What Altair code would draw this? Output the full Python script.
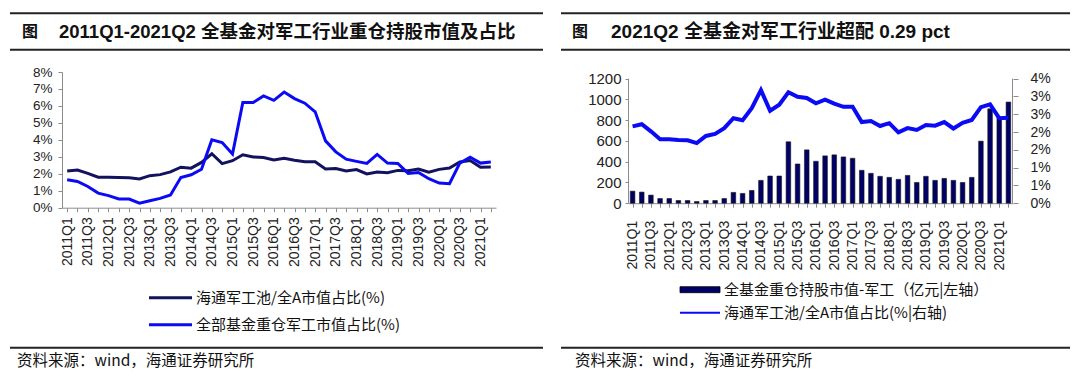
import altair as alt
import pandas as pd

quarters = [
    "2011Q1", "2011Q2", "2011Q3", "2011Q4", "2012Q1", "2012Q2", "2012Q3", "2012Q4",
    "2013Q1", "2013Q2", "2013Q3", "2013Q4", "2014Q1", "2014Q2", "2014Q3", "2014Q4",
    "2015Q1", "2015Q2", "2015Q3", "2015Q4", "2016Q1", "2016Q2", "2016Q3", "2016Q4",
    "2017Q1", "2017Q2", "2017Q3", "2017Q4", "2018Q1", "2018Q2", "2018Q3", "2018Q4",
    "2019Q1", "2019Q2", "2019Q3", "2019Q4", "2020Q1", "2020Q2", "2020Q3", "2020Q4",
    "2021Q1", "2021Q2",
]
# 海通军工池/全A市值占比 (%)
pool_share = [2.16, 2.22, 2.02, 1.80, 1.80, 1.78, 1.77, 1.69, 1.89, 1.95, 2.11, 2.39,
              2.33, 2.67, 3.18, 2.60, 2.77, 3.12, 2.99, 2.96, 2.81, 2.91, 2.80, 2.71,
              2.71, 2.28, 2.31, 2.17, 2.25, 1.99, 2.11, 2.06, 2.20, 2.18, 2.28, 2.10,
              2.26, 2.34, 2.70, 2.78, 2.39, 2.40]
# 全部基金重仓军工市值占比 (%)
fund_share = [1.65, 1.55, 1.25, 0.86, 0.71, 0.51, 0.51, 0.27, 0.41, 0.55, 0.75, 1.78,
              1.94, 2.27, 4.00, 3.84, 3.16, 6.20, 6.20, 6.59, 6.33, 6.82, 6.43, 6.16,
              5.65, 3.94, 3.29, 2.86, 2.73, 2.61, 3.14, 2.63, 2.61, 2.02, 2.08, 1.71,
              1.45, 1.41, 2.63, 2.98, 2.63, 2.69]
# 全基金重仓持股市值-军工 (亿元)
fund_value = [116, 107, 78, 45, 45, 26, 26, 16, 26, 26, 45, 104,
              94, 123, 220, 262, 262, 592, 378, 514, 404, 456, 466, 446,
              433, 317, 288, 259, 249, 230, 268, 200, 259, 220, 239, 220,
              200, 249, 598, 910, 830, 975]

left_ticks = [0, 0.01, 0.02, 0.03, 0.04, 0.05, 0.06, 0.07, 0.08]
right_left_ticks = [0, 200, 400, 600, 800, 1000, 1200]
right_right_ticks = [0, 0.005, 0.01, 0.015, 0.02, 0.025, 0.03, 0.035]

title_left = "2011Q1-2021Q2 全基金对军工行业重仓持股市值及占比"
title_right = "2021Q2 全基金对军工行业超配 0.29 pct"
legend_left = ["海通军工池/全A市值占比(%)", "全部基金重仓军工市值占比(%)"]
legend_right = ["全基金重仓持股市值-军工（亿元|左轴）", "海通军工池/全A市值占比(%|右轴)"]
source = "资料来源：wind，海通证券研究所"

LAT = "Liberation Sans"
CJK = "Noto Sans CJK SC"
MIX = "Liberation Sans, Noto Sans CJK SC"
DARK = "#12125e"
BLUE = "#0a0af5"
NAVY = "#000066"
AX = "#8c8c8c"

df = pd.DataFrame({
    "q": quarters,
    "pool": [v / 100 for v in pool_share],
    "fund": [v / 100 for v in fund_share],
    "amount": fund_value,
})
one = pd.DataFrame({"k": [0]})


def txt(s, x, y, size, weight="normal", font=CJK, color="#111"):
    return alt.Chart(one).mark_text(
        text=s, align="left", baseline="middle", fontSize=size, fontWeight=weight,
        font=font, color=color
    ).encode(x=alt.value(x), y=alt.value(y))


def hline(x1, x2, y, w, color):
    return alt.Chart(one).mark_rule(strokeWidth=w, color=color).encode(
        x=alt.value(x1), x2=alt.value(x2), y=alt.value(y))


def vline(x, y1, y2, color):
    return alt.Chart(one).mark_rule(strokeWidth=1, color=color).encode(
        x=alt.value(x), y=alt.value(y1), y2=alt.value(y2))


def box(x1, x2, y1, y2):
    return alt.Chart(one).mark_rect(opacity=0).encode(
        x=alt.value(x1), x2=alt.value(x2), y=alt.value(y1), y2=alt.value(y2))


label_expr_x = ("indexof(datum.value, 'Q2') >= 0 || indexof(datum.value, 'Q4') >= 0"
                " ? '' : datum.value")


def xaxis(pad):
    return alt.Axis(labelAngle=270, labelExpr=label_expr_x, labelOverlap=False,
                    tickSize=4, tickColor=AX, domainColor=AX,
                    labelFont=LAT, labelFontSize=14, labelColor="#222",
                    labelPadding=pad, title="", grid=False)


def yaxis(orient, values, fmt, tick, pad, size=14, domain=True):
    return alt.Axis(orient=orient, values=values, format=fmt, labelOverlap=False,
                    tickSize=tick, tickColor=AX, domainColor=AX, domain=domain,
                    labelFont=LAT, labelFontSize=size, labelColor="#222",
                    labelPadding=pad, title="", grid=False)


# ---------------- left panel (plot 434 x 135.7, origin at page 62,71.3) ----------------
WL, HL = 434, 135.7
xL_scale = alt.Scale(type="point", domain=quarters, padding=0.5)
yL_scale = alt.Scale(domain=[0, 0.08], nice=False)
xL_axis = xaxis(5)
yL_axis = yaxis("left", left_ticks, ".0%", 4, 6, 13.5)

left_dark = alt.Chart(df).mark_line(color=DARK, strokeWidth=3).encode(
    x=alt.X("q:N", scale=xL_scale, axis=xL_axis),
    y=alt.Y("pool:Q", scale=yL_scale, axis=yL_axis),
)
left_blue = alt.Chart(df).mark_line(color=BLUE, strokeWidth=3).encode(
    x=alt.X("q:N", scale=xL_scale, axis=xL_axis),
    y=alt.Y("fund:Q", scale=yL_scale, axis=yL_axis),
)

left_decor = [
    box(-54, 490, -63.3, 304.7),
    hline(-52, 481, -58.8, 2, "#222"), hline(-52, 481, -22.3, 2, "#222"),
    txt("图", -40, -40.3, 16, "bold", MIX), txt(title_left, -3, -40.3, 18.5, "bold", MIX),
    hline(87, 130, 225.7, 3, DARK), txt(legend_left[0], 134, 225.7, 15),
    hline(87, 130, 252.7, 3, BLUE), txt(legend_left[1], 134, 252.7, 15),
    hline(-52, 481, 275.7, 2, "#222"),
    txt(source, -45, 288.7, 15.5),
]

left = alt.layer(*left_decor, left_dark, left_blue).properties(width=WL, height=HL)

# ---------------- right panel (plot 385 x 131.2, origin at page 628,71.3) ----------------
WR, HR = 385, 131.2
TOP_GAP = 6.7          # the 1200 / 3.5% level sits this far below the plot top
AMT_MAX = 1200 * HR / (HR - TOP_GAP)
PCT_MAX = 0.035 * HR / (HR - TOP_GAP)
xR_scale = alt.Scale(type="point", domain=quarters, padding=0.5)
xR_axis = xaxis(13)

bars = alt.Chart(df).mark_bar(size=4.6, color=NAVY, stroke="#1a1a1a", strokeWidth=0.6).encode(
    x=alt.X("q:N", scale=xR_scale, axis=xR_axis),
    y=alt.Y("amount:Q", scale=alt.Scale(domain=[0, AMT_MAX], nice=False),
            axis=yaxis("left", right_left_ticks, "d", 3, 4, 15, False)),
)
right_line = alt.Chart(df).mark_line(color=BLUE, strokeWidth=4).encode(
    x=alt.X("q:N", scale=xR_scale, axis=xR_axis),
    y=alt.Y("pool:Q", scale=alt.Scale(domain=[0, PCT_MAX], nice=False),
            axis=yaxis("right", right_right_ticks, ".0%", 5, 12, 14, False)),
)

right_decor = [
    box(-76, 444, -63.3, 304.7),
    hline(-67, 442, -58.8, 2, "#222"), hline(-67, 442, -22.3, 2, "#222"),
    txt("图", -56, -40.3, 16, "bold", MIX), txt(title_right, -17, -40.3, 19, "bold", MIX),
    vline(0.5, TOP_GAP, HR, AX), vline(WR - 0.5, TOP_GAP, HR, AX),
    alt.Chart(one).mark_rect(color=NAVY, stroke="#000", strokeWidth=0.8).encode(
        x=alt.value(52), x2=alt.value(92), y=alt.value(214.7), y2=alt.value(220.7)),
    txt(legend_right[0], 96, 217.7, 15),
    hline(52, 92, 240.7, 2, BLUE), txt(legend_right[1], 96, 240.7, 15),
    hline(-67, 442, 275.7, 2, "#222"),
    txt(source, -53, 288.7, 15.5),
]

right_plot = alt.layer(bars, right_line).resolve_scale(y="independent")
right = alt.layer(*right_decor, right_plot).properties(width=WR, height=HR)

chart = alt.hconcat(left, right, spacing=0).properties(padding=0).configure_view(strokeWidth=0)

chart.save("out.html", embed_options={"renderer": "svg", "actions": False})
